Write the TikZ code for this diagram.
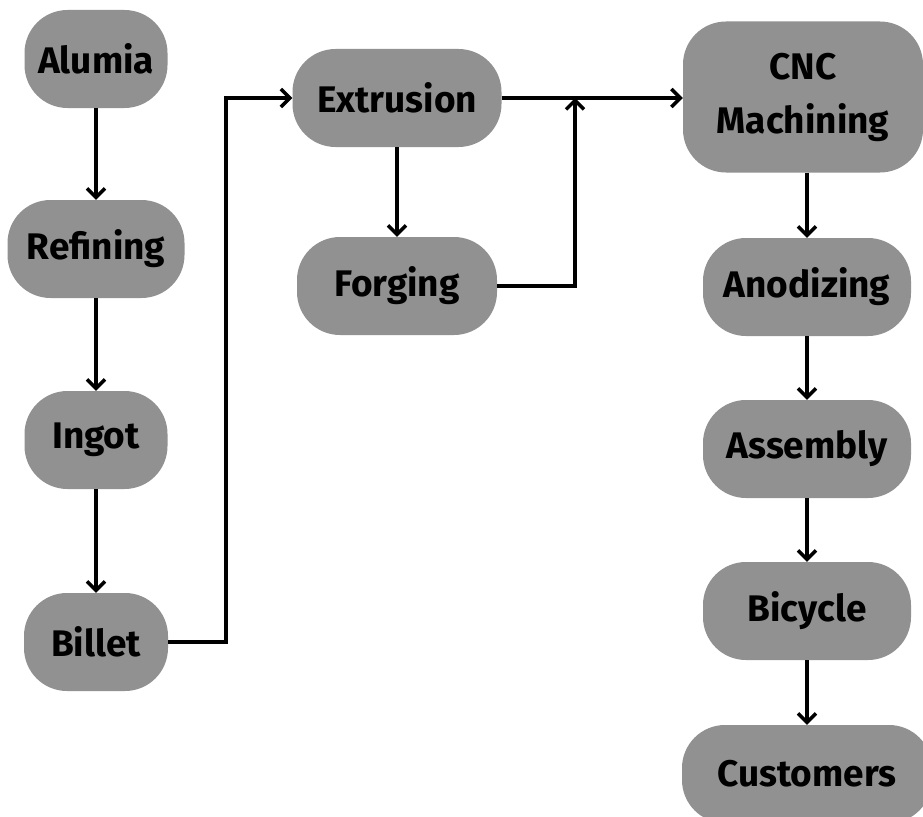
\documentclass[tikz,border=0pt]{standalone}
\usepackage{fontspec}
\setmainfont{Fira Sans}
\usepackage{tikz}
\usetikzlibrary{arrows.meta}
\definecolor{boxgray}{RGB}{145,145,145}

\begin{document}
\begin{tikzpicture}[
  x=1pt, y=-1pt,
  stage/.style={rectangle, rounded corners=43pt, fill=boxgray,
                minimum height=98pt, inner sep=0pt, align=center,
                font=\fontsize{37}{54}\selectfont\bfseries},
  flow/.style={draw, black, line width=3.5pt,
               -{Straight Barb[length=9pt,width=18pt,line width=3.5pt]}}
]
  \clip (0,0) rectangle (923,816);
  \node[stage, minimum width=143pt] (Alumia)   at ( 96, 59) {Alumia};
  \node[stage, minimum width=177pt] (Refining) at ( 96,249) {Refining};
  \node[stage, minimum width=143pt] (Ingot)    at ( 96,440) {Ingot};
  \node[stage, minimum width=144pt] (Billet)   at ( 96,642) {Billet};
  \node[stage, minimum width=209pt] (Extrusion) at (397, 98) {Extrusion};
  \node[stage, minimum width=200pt] (Forging)   at (397,286) {Forging};
  \node[stage, minimum width=240pt, minimum height=151pt] (CNC) at (803,97)
       {CNC\\Machining};
  \node[stage, minimum width=208pt] (Anodizing) at (807,287) {Anodizing};
  \node[stage, minimum width=208pt] (Assembly)  at (807,449) {Assembly};
  \node[stage, minimum width=208pt] (Bicycle)   at (807,611) {Bicycle};
  \node[stage, minimum width=250pt] (Customers) at (807,774) {Customers};
  \coordinate (join) at (575,98);

  \foreach \a/\b in {Alumia/Refining, Refining/Ingot, Ingot/Billet,
                     Extrusion/Forging, Anodizing/Assembly,
                     Assembly/Bicycle, Bicycle/Customers}
    \draw[flow] (\a) -- (\b);
  \draw[flow] (Billet.east) -- ++(58,0) |- (Extrusion.west);
  \draw[flow] (Extrusion.east) -- (Extrusion.east -| CNC.west);
  \draw[flow] (Forging.east) -| (join);
  \draw[flow] (CNC.south -| Anodizing.north) -- (Anodizing.north);
\end{tikzpicture}
\end{document}
